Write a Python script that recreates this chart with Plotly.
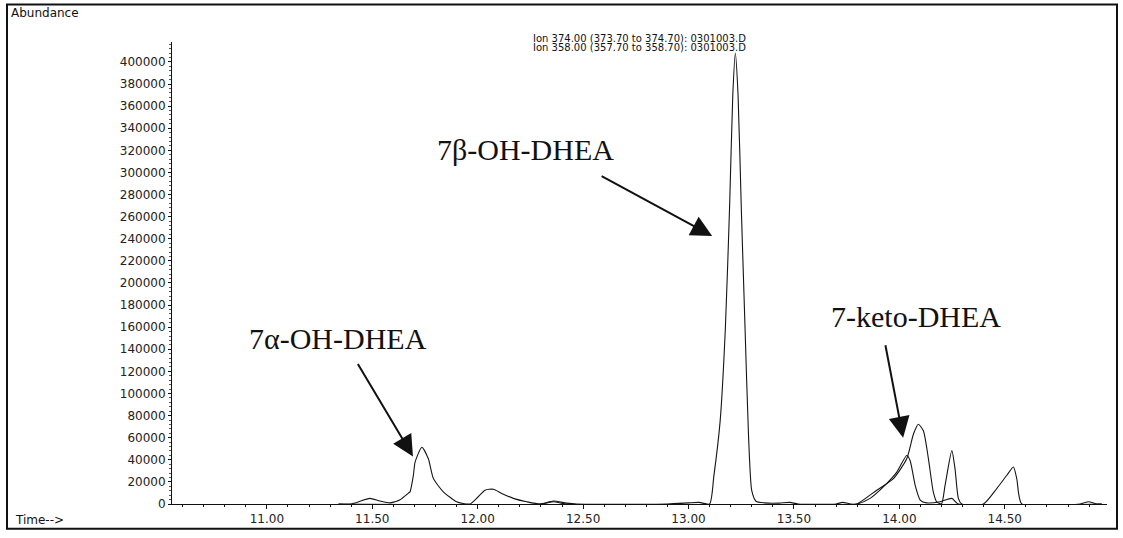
import plotly.graph_objects as go

# ---------------- data ----------------
# Ion 374.00 trace: retention time (min) and abundance
ion374_time = [11.34, 11.40, 11.45, 11.489, 11.536, 11.584, 11.632, 11.671, 11.679, 11.695,
               11.703, 11.735, 11.766, 11.790, 11.837, 11.900, 11.930, 11.964, 11.995, 12.035,
               12.074, 12.114, 12.169, 12.233, 12.296, 12.359, 12.422, 12.470, 12.90, 13.00,
               13.05, 13.10, 13.120, 13.150, 13.175, 13.195, 13.210, 13.222, 13.235, 13.250,
               13.268, 13.285, 13.300, 13.320, 13.360, 13.430, 13.480, 13.520, 13.700, 13.730,
               13.770, 13.798, 13.893, 13.972, 14.035, 14.067, 14.090, 14.114, 14.138, 14.161,
               14.177, 14.200, 14.217, 14.249, 14.264, 14.280, 14.296, 14.399, 14.462, 14.510,
               14.541, 14.557, 14.581, 14.857, 14.897, 14.937, 14.960]
ion374_abund = [0, 0, 3000, 5100, 2700, 1000, 3900, 9800, 11000, 26000,
                37900, 51300, 40900, 23000, 11000, 2000, 500, 0, 5100, 12500,
                13400, 9600, 5100, 2000, 0, 2700, 800, 0, 0, 1000,
                1500, 0, 25000, 75000, 160000, 270000, 370000, 408000, 370000, 270000,
                160000, 60000, 12000, 2500, 1000, 800, 1500, 0, 0, 1500,
                0, 0, 12500, 23000, 40900, 63300, 72200, 66200, 40900, 11000,
                2000, 0, 17000, 48300, 32000, 5100, 0, 0, 14000, 26000,
                33400, 23000, 0, 0, 2000, 0, 0]

# Ion 358.00 trace
ion358_time = [11.34, 12.30, 12.36, 12.42, 13.798, 13.861, 13.924, 13.988, 14.035, 14.051,
               14.075, 14.099, 14.130, 14.193, 14.249, 14.280, 14.960]
ion358_abund = [0, 0, 2000, 0, 0, 5100, 15500, 28900, 43900, 39400,
                17000, 3600, 1000, 2000, 5100, 0, 0]

x_tick_vals = [11.0, 11.5, 12.0, 12.5, 13.0, 13.5, 14.0, 14.5]
x_tick_text = ["11.00", "11.50", "12.00", "12.50", "13.00", "13.50", "14.00", "14.50"]
y_tick_vals = [0, 20000, 40000, 60000, 80000, 100000, 120000, 140000, 160000, 180000,
               200000, 220000, 240000, 260000, 280000, 300000, 320000, 340000, 360000,
               380000, 400000]
y_tick_text = [str(v) for v in y_tick_vals]

ion_labels = ["Ion 374.00 (373.70 to 374.70): 0301003.D",
              "Ion 358.00 (357.70 to 358.70): 0301003.D"]
peak_names = ["7\u03b2-OH-DHEA", "7\u03b1-OH-DHEA", "7-keto-DHEA"]

# ---------------- figure ----------------
W, H = 1123, 538
L, T = 172, 42
R = W - 1107
B = H - 509
PW, PH = W - L - R, H - T - B


def px(xp):
    return (xp - L) / PW


def py(yp):
    return (H - B - yp) / PH


fig = go.Figure()
line_style = dict(color="#151515", width=1.1)
fig.add_trace(go.Scatter(x=ion374_time, y=ion374_abund, mode="lines",
                         line=dict(shape="spline", smoothing=0.6, **line_style),
                         name=ion_labels[0], showlegend=False))
fig.add_trace(go.Scatter(x=ion358_time, y=ion358_abund, mode="lines",
                         line=dict(shape="spline", smoothing=0.6, **line_style),
                         name=ion_labels[1], showlegend=False))

tick_font = dict(family="DejaVu Sans", size=12, color="#222222")

fig.update_layout(
    width=W, height=H, autosize=False,
    margin=dict(l=L, r=R, t=T, b=B, pad=0),
    paper_bgcolor="white", plot_bgcolor="white",
    xaxis=dict(range=[10.55, 14.985], tickmode="array", tickvals=x_tick_vals,
               ticktext=x_tick_text, showline=True, linecolor="#111111", linewidth=1,
               ticks="outside", ticklen=4, tickcolor="#111111", showgrid=False,
               zeroline=False, tickfont=tick_font,
               minor=dict(dtick=0.1, ticks="outside", ticklen=2, tickcolor="#111111")),
    yaxis=dict(range=[0, 418000], tickmode="array", tickvals=y_tick_vals,
               ticktext=y_tick_text, showline=True, linecolor="#111111", linewidth=1,
               ticks="outside", ticklen=3, tickcolor="#111111", showgrid=False,
               zeroline=False, tickfont=tick_font,
               minor=dict(dtick=4000, ticks="outside", ticklen=2, tickcolor="#555555")),
)

# outer frame
fig.add_shape(type="rect", xref="paper", yref="paper",
              x0=px(7), x1=px(1117), y0=py(534), y1=py(4),
              line=dict(color="#111111", width=2), fillcolor="rgba(0,0,0,0)")

small_font = dict(family="DejaVu Sans", size=12, color="#111111")
annots = [
    dict(text="Abundance", x=px(9), y=py(13), xanchor="left", yanchor="middle",
         font=small_font),
    dict(text="Time-->", x=px(13), y=py(525), xanchor="left", yanchor="middle",
         font=small_font),
    dict(text=ion_labels[0], x=px(639), y=py(38), xanchor="center", yanchor="middle",
         font=dict(family="DejaVu Sans", size=10, color="#111111")),
    dict(text=ion_labels[1], x=px(639), y=py(47.5), xanchor="center", yanchor="middle",
         font=dict(family="DejaVu Sans", size=10, color="#111111")),
]
name_font = dict(family="Liberation Serif", size=30, color="#111111")
for name, (cx, cy) in zip(peak_names, [(525, 151), (338, 342), (916, 319)]):
    annots.append(dict(text=name, x=px(cx), y=py(cy), xanchor="center",
                       yanchor="middle", font=name_font))
for a in annots:
    a.update(xref="paper", yref="paper", showarrow=False)
    fig.add_annotation(**a)

# arrows (tip at data point, tail offset in pixels)
for (tx, ty, ax, ay) in [(13.112, 242570, -112, -60.5),
                         (11.693, 42960, -56, -94),
                         (14.018, 59970, -18, -94)]:
    fig.add_annotation(x=tx, y=ty, xref="x", yref="y", ax=ax, ay=ay,
                       axref="pixel", ayref="pixel", text="", showarrow=True,
                       arrowhead=2, arrowsize=2.1, arrowwidth=2,
                       arrowcolor="#111111", standoff=0)

# remove the default 8px page margin so the figure fills the window exactly
fig.write_html("out.html",
               config={"displayModeBar": False},
               post_script="document.body.style.margin='0';"
                           "document.body.style.overflow='hidden';")
